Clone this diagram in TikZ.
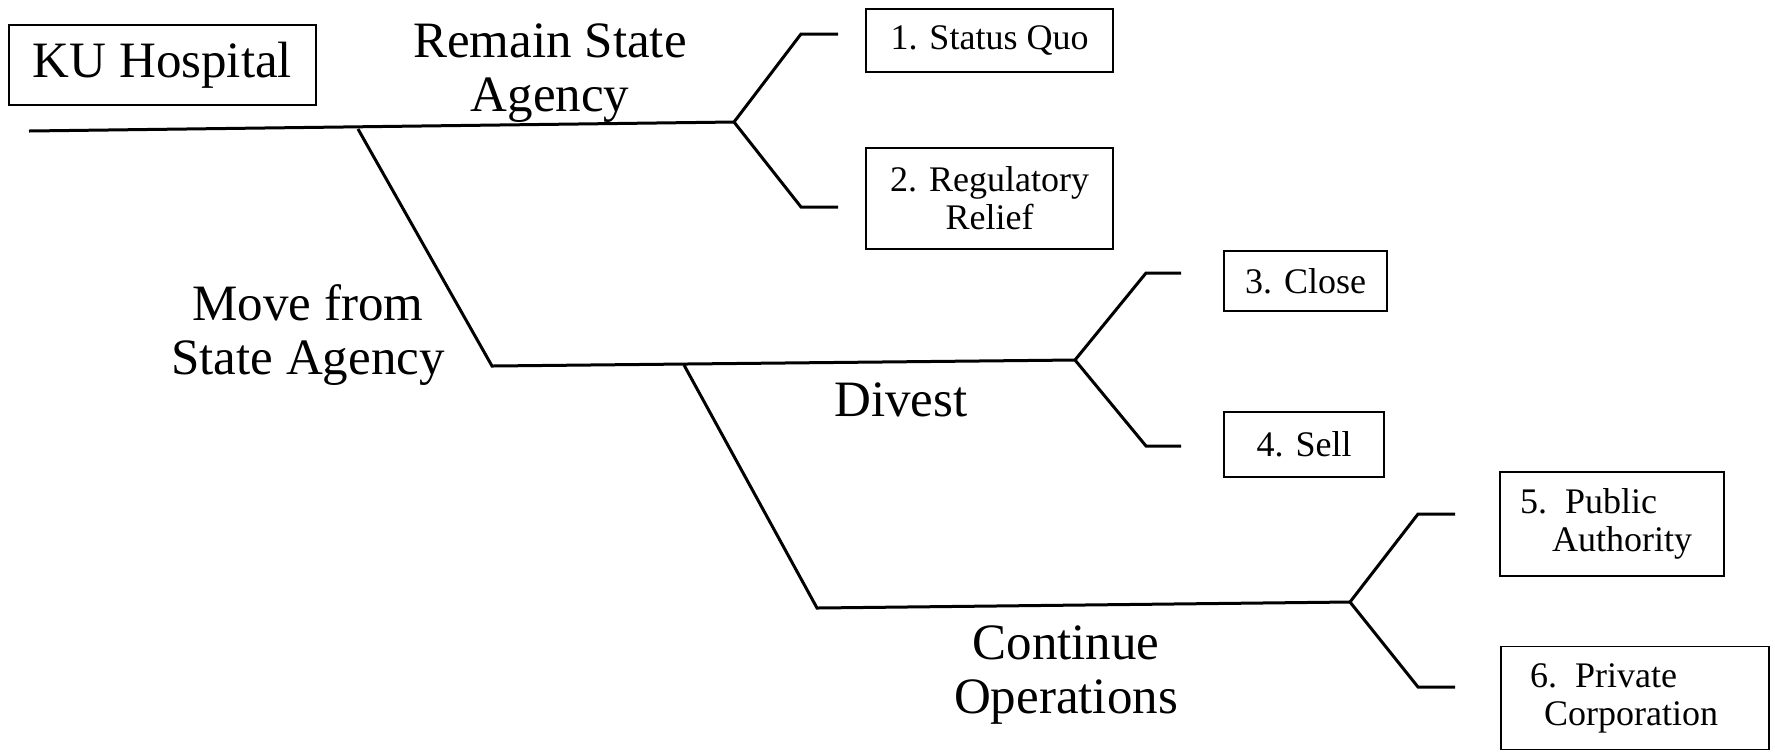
\documentclass[tikz,border=0pt]{standalone}
\usepackage{fontspec}
\setmainfont{Liberation Serif}
\begin{document}
\begin{tikzpicture}[x=0.5pt,y=-0.5pt,
  branch/.style={line width=1.5pt, line join=miter},
  optbox/.style={draw, line width=0.7pt, inner sep=0pt, font=\fontsize{18}{19}\selectfont},
  biglabel/.style={align=center, inner sep=0pt, font=\fontsize{25.5}{27}\selectfont}]
\useasboundingbox (0,0) rectangle (1775,752);
% boxes
\node[optbox, minimum width=153.5pt, minimum height=40pt, font=\fontsize{25.5}{27}\selectfont] (ku) at (162.5,65) {KU Hospital};
\node[optbox, minimum width=123.5pt, minimum height=31.5pt] (b1) at (989.5,40.5) {1. Status Quo};
\node[optbox, minimum width=123.5pt, minimum height=50.5pt, align=center] (b2) at (989.5,198.5) {2. Regulatory\\Relief};
\node[optbox, minimum width=81.5pt, minimum height=30pt] (b3) at (1305.5,281) {3. Close};
\node[optbox, minimum width=80pt, minimum height=32.5pt] (b4) at (1304,444.5) {4. Sell};
\node[optbox, minimum height=52pt, inner xsep=10pt, text width=92pt, align=left] (b5) at (1612,524) {5. Public\\\hspace*{16pt}Authority};
\node[optbox, minimum height=51.5pt, inner xsep=14.5pt, text width=105pt, align=left] (b6) at (1635,698) {6. Private\\\hspace*{7pt}Corporation};
% labels
\node[biglabel] (remain) at (550,73) {Remain State\\Agency};
\node[biglabel] (move) at (308,335) {Move from\\State Agency};
\node[biglabel] (divest) at (901,400) {Divest};
\node[biglabel] (cont) at (1066,675) {Continue\\Operations};
% coordinates
\coordinate (start) at (29,131);
\coordinate (forkA) at (734,122);
\coordinate (splitM) at (358,129);
\coordinate (bendM) at (492,366);
\coordinate (forkB) at (1075,360);
\coordinate (splitC) at (684,365);
\coordinate (bendC) at (817,608);
\coordinate (forkC) at (1350,602);
\coordinate (a1) at (801,34);  \coordinate (s1) at (838,34);
\coordinate (a2) at (801,207); \coordinate (s2) at (838,207);
\coordinate (a3) at (1146,273); \coordinate (s3) at (1181,273);
\coordinate (a4) at (1146,446); \coordinate (s4) at (1181,446);
\coordinate (a5) at (1418,514); \coordinate (s5) at (1455,514);
\coordinate (a6) at (1418,687); \coordinate (s6) at (1455,687);
% connectors
\draw[branch] (start) -- (forkA);
\draw[branch] (splitM) -- (bendM) -- (forkB);
\draw[branch] (splitC) -- (bendC) -- (forkC);
\draw[branch] (s1) -- (a1) -- (forkA) -- (a2) -- (s2);
\draw[branch] (s3) -- (a3) -- (forkB) -- (a4) -- (s4);
\draw[branch] (s5) -- (a5) -- (forkC) -- (a6) -- (s6);
\end{tikzpicture}
\end{document}
